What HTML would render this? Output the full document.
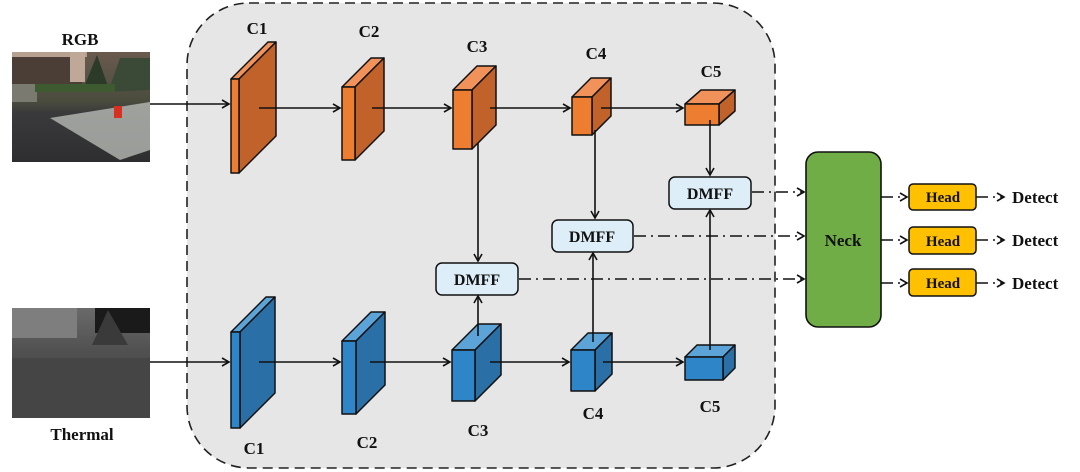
<!DOCTYPE html>
<html><head><meta charset="utf-8"><style>
html,body{margin:0;padding:0;background:#fff;width:1080px;height:472px;overflow:hidden}
svg text{font-family:"Liberation Serif",serif;font-weight:bold}
</style></head><body>
<svg width="1080" height="472" viewBox="0 0 1080 472" xmlns="http://www.w3.org/2000/svg">
<defs>
<marker id="a" markerWidth="10" markerHeight="10" refX="8" refY="5" orient="auto" markerUnits="userSpaceOnUse">
<path d="M1,1 L8,5 L1,9" fill="none" stroke="#111" stroke-width="1.6"/></marker>
<linearGradient id="sky" x1="0" y1="0" x2="0" y2="1"><stop offset="0" stop-color="#6a5a4e"/><stop offset="0.45" stop-color="#4a4c3e"/><stop offset="0.55" stop-color="#3a3a3c"/><stop offset="1" stop-color="#2e2e30"/></linearGradient>
<linearGradient id="th" x1="0" y1="0" x2="0" y2="1"><stop offset="0" stop-color="#6a6a6a"/><stop offset="0.4" stop-color="#505050"/><stop offset="1" stop-color="#3a3a3a"/></linearGradient>
</defs>
<rect x="187" y="3" width="588" height="465" rx="62" fill="#e6e6e6" stroke="#222" stroke-width="1.6" stroke-dasharray="10,6"/>

<!-- RGB image -->
<rect x="12" y="52" width="138" height="110" fill="url(#sky)"/>
<rect x="12" y="52" width="70" height="32" fill="#4a3e36"/>
<rect x="12" y="52" width="75" height="5" fill="#b8a090"/>
<rect x="70" y="52" width="15" height="30" fill="#c0a898"/>
<path d="M82,92 L97,55 L110,92 Z" fill="#2c3a2a"/>
<path d="M108,92 L120,58 L150,58 L150,90 Z" fill="#3a4a36"/>
<rect x="12" y="84" width="25" height="18" fill="#7a7a70"/>
<rect x="35" y="84" width="80" height="8" fill="#3e5a30"/>
<path d="M50,118 L150,102 L150,150 L120,160 Z" fill="#c8ccc4" opacity="0.7"/>
<rect x="114" y="106" width="8" height="12" fill="#d83020"/>
<text x="80" y="45" font-size="17" text-anchor="middle" fill="#111">RGB</text>

<!-- Thermal -->
<rect x="12" y="308" width="138" height="110" fill="url(#th)"/>
<rect x="12" y="308" width="65" height="30" fill="#7e7e7e"/>
<rect x="95" y="308" width="55" height="25" fill="#1a1a1a"/>
<path d="M92,345 L108,310 L128,345 Z" fill="#3a3a3a"/>
<rect x="12" y="358" width="138" height="60" fill="#454545"/>
<text x="82" y="440" font-size="17" text-anchor="middle" fill="#111">Thermal</text>

<g stroke="#111" stroke-width="1.6" fill="none">
<line x1="150" y1="104" x2="229" y2="104" marker-end="url(#a)"/>
<line x1="150" y1="362" x2="229" y2="362" marker-end="url(#a)"/>
</g>

<g stroke="#111" stroke-width="1.5" stroke-linejoin="round">
<polygon points="231,79 268,42 276,42 239,79" fill="#f0925a"/><polygon points="239,79 276,42 276,136 239,173" fill="#c0622a"/><rect x="231" y="79" width="8" height="94" fill="#ed7d31"/>
<polygon points="342,87 371,58 384,58 355,87" fill="#f0925a"/><polygon points="355,87 384,58 384,131 355,160" fill="#c0622a"/><rect x="342" y="87" width="13" height="73" fill="#ed7d31"/>
<polygon points="453,90 477,66 496,66 472,90" fill="#f0925a"/><polygon points="472,90 496,66 496,125 472,149" fill="#c0622a"/><rect x="453" y="90" width="19" height="59" fill="#ed7d31"/>
<polygon points="572,97 591,78 611,78 592,97" fill="#f0925a"/><polygon points="592,97 611,78 611,116 592,135" fill="#c0622a"/><rect x="572" y="97" width="20" height="38" fill="#ed7d31"/>
<polygon points="685,104 701,90 735,90 719,104" fill="#f0925a"/><polygon points="719,104 735,90 735,111 719,125" fill="#c0622a"/><rect x="685" y="104" width="34" height="21" fill="#ed7d31"/>

<polygon points="231,332 266,297 275,297 240,332" fill="#5ca3d8"/><polygon points="240,332 275,297 275,393 240,428" fill="#2a6fa6"/><rect x="231" y="332" width="9" height="96" fill="#2e86c8"/>
<polygon points="342,341 371,312 385,312 356,341" fill="#5ca3d8"/><polygon points="356,341 385,312 385,385 356,414" fill="#2a6fa6"/><rect x="342" y="341" width="14" height="73" fill="#2e86c8"/>
<polygon points="452,350 478,324 501,324 475,350" fill="#5ca3d8"/><polygon points="475,350 501,324 501,375 475,401" fill="#2a6fa6"/><rect x="452" y="350" width="23" height="51" fill="#2e86c8"/>
<polygon points="571,350 588,333 612,333 595,350" fill="#5ca3d8"/><polygon points="595,350 612,333 612,374 595,391" fill="#2a6fa6"/><rect x="571" y="350" width="24" height="41" fill="#2e86c8"/>
<polygon points="685,357 697,345 735,345 723,357" fill="#5ca3d8"/><polygon points="723,357 735,345 735,368 723,380" fill="#2a6fa6"/><rect x="685" y="357" width="38" height="23" fill="#2e86c8"/>
</g>

<g stroke="#111" stroke-width="1.6" fill="none">
<line x1="259" y1="108" x2="340" y2="108" marker-end="url(#a)"/>
<line x1="372" y1="108" x2="451" y2="108" marker-end="url(#a)"/>
<line x1="490" y1="108" x2="570" y2="108" marker-end="url(#a)"/>
<line x1="601" y1="108" x2="683" y2="108" marker-end="url(#a)"/>
<line x1="259" y1="362" x2="340" y2="362" marker-end="url(#a)"/>
<line x1="370" y1="362" x2="450" y2="362" marker-end="url(#a)"/>
<line x1="490" y1="362" x2="569" y2="362" marker-end="url(#a)"/>
<line x1="603" y1="362" x2="683" y2="362" marker-end="url(#a)"/>
<line x1="478" y1="143" x2="478" y2="261" marker-end="url(#a)"/>
<line x1="478" y1="336" x2="478" y2="296" marker-end="url(#a)"/>
<line x1="595" y1="130" x2="595" y2="218" marker-end="url(#a)"/>
<line x1="593" y1="342" x2="593" y2="253" marker-end="url(#a)"/>
<line x1="710" y1="120" x2="710" y2="175" marker-end="url(#a)"/>
<line x1="710" y1="350" x2="710" y2="210" marker-end="url(#a)"/>
<g stroke-dasharray="12,5,2,5">
<line x1="752" y1="192" x2="804" y2="192" marker-end="url(#a)"/>
<line x1="634" y1="236" x2="804" y2="236" marker-end="url(#a)"/>
<line x1="519" y1="279" x2="804" y2="279" marker-end="url(#a)"/>
<line x1="881" y1="197" x2="907" y2="197" marker-end="url(#a)"/>
<line x1="881" y1="240" x2="907" y2="240" marker-end="url(#a)"/>
<line x1="881" y1="283" x2="907" y2="283" marker-end="url(#a)"/>
<line x1="976" y1="197" x2="1004" y2="197" marker-end="url(#a)"/>
<line x1="976" y1="240" x2="1004" y2="240" marker-end="url(#a)"/>
<line x1="976" y1="283" x2="1004" y2="283" marker-end="url(#a)"/>
</g>
</g>

<g stroke="#111" stroke-width="1.5" fill="#deeef8">
<rect x="436" y="263" width="82" height="32" rx="6"/>
<rect x="552" y="220" width="81" height="32" rx="6"/>
<rect x="669" y="177" width="82" height="32" rx="6"/>
</g>
<g font-size="16" text-anchor="middle" fill="#111">
<text x="477" y="285">DMFF</text>
<text x="592" y="242">DMFF</text>
<text x="710" y="199">DMFF</text>
</g>

<rect x="806" y="152" width="75" height="175" rx="12" fill="#70ad47" stroke="#111" stroke-width="1.6"/>
<text x="843" y="246" font-size="17" text-anchor="middle" fill="#111">Neck</text>
<g stroke="#111" stroke-width="1.5" fill="#ffc000">
<rect x="909" y="184" width="67" height="26" rx="4"/>
<rect x="909" y="227" width="67" height="27" rx="4"/>
<rect x="909" y="269" width="67" height="27" rx="4"/>
</g>
<g font-size="15" text-anchor="middle" fill="#111">
<text x="943" y="202">Head</text><text x="943" y="246">Head</text><text x="943" y="288">Head</text>
</g>
<g font-size="17" fill="#111">
<text x="1012" y="203">Detect</text><text x="1012" y="246">Detect</text><text x="1012" y="289">Detect</text>
</g>

<g font-size="17" text-anchor="middle" fill="#111">
<text x="257" y="34">C1</text><text x="369" y="37">C2</text><text x="477" y="52">C3</text><text x="596" y="59">C4</text><text x="711" y="77">C5</text>
<text x="254" y="454">C1</text><text x="367" y="448">C2</text><text x="478" y="436">C3</text><text x="593" y="419">C4</text><text x="710" y="412">C5</text>
</g>
</svg>
</body></html>
